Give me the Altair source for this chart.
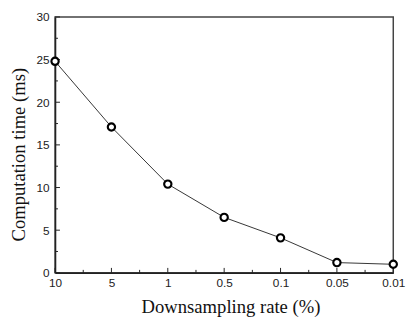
import altair as alt
import pandas as pd

rates = ["10", "5", "1", "0.5", "0.1", "0.05", "0.01"]
times = [24.8, 17.1, 10.4, 6.5, 4.1, 1.2, 1.0]
y_major = [0, 5, 10, 15, 20, 25, 30]
y_minor = [2.5, 7.5, 12.5, 17.5, 22.5, 27.5]

idx = list(range(len(rates)))
df = pd.DataFrame({"i": idx, "rate": rates, "t": times})
x_major = pd.DataFrame({"v": idx})
x_minor = pd.DataFrame({"v": [i + 0.5 for i in idx[:-1]]})
ym = pd.DataFrame({"v": y_major})
yn = pd.DataFrame({"v": y_minor})

label_expr = "[" + ",".join("'%s'" % r for r in rates) + "][round(datum.value)]"

xs = alt.Scale(domain=[0, 6], nice=False, zero=False)
ys = alt.Scale(domain=[0, 30], nice=False)

xaxis = alt.Axis(values=idx, labelExpr=label_expr, ticks=False, grid=False,
                 title="Downsampling rate (%)", labelFont="Liberation Sans",
                 labelFontSize=12, labelColor="#222", labelPadding=5,
                 titleFont="Liberation Serif", titleFontSize=19, titleFontWeight="normal",
                 titleColor="#111", titlePadding=9, titleX=179, domainColor="#222",
                 domainWidth=1.5, labelFlush=False)
yaxis = alt.Axis(values=y_major, ticks=False, grid=False,
                 title="Computation time (ms)", labelFont="Liberation Sans",
                 labelFontSize=12, labelColor="#222", labelPadding=6,
                 titleFont="Liberation Serif", titleFontSize=19, titleFontWeight="normal",
                 titleColor="#111", titlePadding=8, titleY=140, domainColor="#222",
                 domainWidth=1.5)

base = alt.Chart(df)

line = base.mark_line(color="#333", strokeWidth=1).encode(
    x=alt.X("i:Q", scale=xs, axis=xaxis),
    y=alt.Y("t:Q", scale=ys, axis=yaxis),
)
pts = base.mark_point(shape="circle", filled=False, color="black", strokeWidth=2.2,
                      size=55, opacity=1, fill="white").encode(
    x=alt.X("i:Q", scale=xs),
    y=alt.Y("t:Q", scale=ys),
)

H = 261
xt_major = alt.Chart(x_major).mark_rule(color="#222", strokeWidth=1).encode(
    x=alt.X("v:Q", scale=xs), y=alt.value(H), y2=alt.value(H - 5))
xt_minor = alt.Chart(x_minor).mark_rule(color="#222", strokeWidth=1).encode(
    x=alt.X("v:Q", scale=xs), y=alt.value(H), y2=alt.value(H - 3))
yt_major = alt.Chart(ym).mark_rule(color="#222", strokeWidth=1).encode(
    y=alt.Y("v:Q", scale=ys), x=alt.value(0), x2=alt.value(5))
yt_minor = alt.Chart(yn).mark_rule(color="#222", strokeWidth=1).encode(
    y=alt.Y("v:Q", scale=ys), x=alt.value(0), x2=alt.value(3))

chart = alt.layer(xt_major, xt_minor, yt_major, yt_minor, line, pts).properties(
    width=345, height=H,
    background="white",
    autosize=alt.AutoSizeParams(type="none"),
    padding={"left": 48, "top": 6, "right": 14, "bottom": 45},
).configure_view(stroke="#444", strokeWidth=1.5)

chart.save("out.html", embed_options={"renderer": "svg", "actions": False})
